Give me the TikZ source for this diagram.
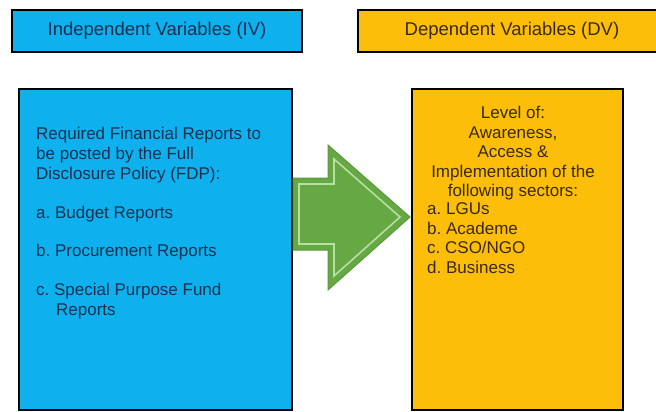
\documentclass[tikz,border=0pt]{standalone}
\usepackage{fontspec}
\setmainfont{Liberation Sans}
\usetikzlibrary{positioning}
\definecolor{myblue}{HTML}{0FB0EE}
\definecolor{myorange}{HTML}{FDBE0A}
\definecolor{mygreen}{HTML}{66A843}
\definecolor{mydarkgreen}{HTML}{5A9A3C}
\definecolor{mylightgreen}{HTML}{B8DFA2}
\definecolor{mynavy}{HTML}{15304E}
\definecolor{mybrown}{HTML}{3A2906}
\tikzset{
  headbox/.style={draw=black, line width=2.6pt, minimum height=42pt, inner sep=0pt, font=\fontsize{18.5}{22}\selectfont},
  bigbox/.style={draw=black, line width=2.6pt, minimum height=321pt, inner sep=0pt},
  boxtext/.style={inner sep=0pt, font=\fontsize{17}{20}\selectfont},
}
\begin{document}
\begin{tikzpicture}[x=1pt, y=-1pt]
				\useasboundingbox (0,0) rectangle (656,412);
				\clip (0,0) rectangle (656,412);
				% headers
				\node [headbox, fill=myblue, text=mynavy, minimum width=290pt] (ivhead) at (157,31) {Independent Variables (IV)};
				\node [headbox, fill=myorange, text=mybrown, minimum width=308pt] (dvhead) at (512,31) {Dependent Variables (DV)};
				% boxes
				\node [bigbox, fill=myblue, minimum width=273pt] (ivbox) at (155.5,249.5) {};
				\node [bigbox, fill=myorange, minimum width=211pt] (dvbox) at (517.5,249.5) {};
				% arrow
				\filldraw [mygreen, draw=mydarkgreen, line width=1pt] (293,178) -- (328,178) -- (328,145) -- (410,217) -- (328,290) -- (328,250) -- (293,250) -- cycle;
				\draw [mylightgreen, line width=1.6pt, line join=miter] (299,184) -- (334,184) -- (334,159) -- (400,217) -- (334,276) -- (334,244) -- (299,244) -- cycle;
				% texts
				\node [boxtext, text=mynavy, anchor=north west, align=left] (ivtext) at (36,127) {Required Financial Reports to\\be posted by the Full\\Disclosure Policy (FDP):\\[19pt]a.\ Budget Reports\\[18pt]b.\ Procurement Reports\\[19pt]c.\ Special Purpose Fund\\\hspace*{20pt}Reports};
				\node [boxtext, text=mybrown, anchor=north, align=center, font=\fontsize{17}{19.5}\selectfont] (dvtext) at (513,106) {Level of:\\Awareness,\\Access \&\\Implementation of the\\following sectors:};
				\node [boxtext, text=mybrown, anchor=north west, align=left, font=\fontsize{17}{19.5}\selectfont] (dvlist) at (427,202.5) {a.\ LGUs\\b.\ Academe\\c.\ CSO/NGO\\d.\ Business};
			\end{tikzpicture}
\end{document}
